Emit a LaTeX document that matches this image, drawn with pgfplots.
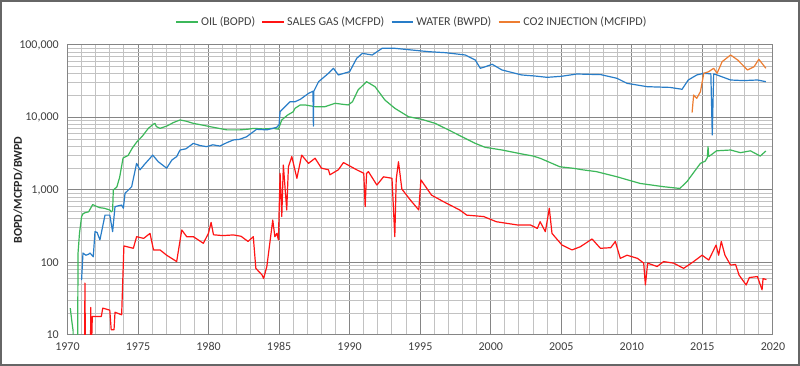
\documentclass[border=0pt]{standalone}
\usepackage{pgfplots}
\pgfplotsset{compat=1.18}
\usepackage{fontspec}
\setmainfont{Carlito}
\definecolor{oilc}{RGB}{60,184,90}
\definecolor{gasc}{RGB}{255,20,20}
\definecolor{watc}{RGB}{40,125,200}
\definecolor{co2c}{RGB}{237,125,49}
\definecolor{txt}{RGB}{64,64,64}
\begin{document}
\begin{tikzpicture}
\draw[black!60, line width=1.2pt, fill=white] (0.6pt,0.6pt) rectangle (599.4pt,273.9pt);
\path (0,0) rectangle (600pt,274.5pt);
\begin{axis}[
  at={(50.6pt,23.25pt)}, anchor=south west,
  scale only axis, width=529.1pt, height=217.5pt,
  xmin=1970, xmax=2020, ymin=10, ymax=100000,
  ymode=log, log basis y=10,
  xtick={1970,1975,...,2020}, minor x tick num=4,
  xticklabels={1970,1975,1980,1985,1990,1995,2000,2005,2010,2015,2020},
  ytick={10,100,1000,10000,100000},
  yticklabels={10,100,{1,000},{10,000},{100,000}},
  minor ytick={20,30,40,50,60,70,80,90,200,300,400,500,600,700,800,900,2000,3000,4000,5000,6000,7000,8000,9000,20000,30000,40000,50000,60000,70000,80000,90000},
  grid=both,
  major grid style={draw=black!48, line width=0.75pt},
  minor grid style={draw=black!24, line width=0.75pt},
  axis line style={draw=black!48, line width=0.75pt},
  tick style={draw=none},
  ticklabel style={font=\fontsize{9}{10}\selectfont, text=txt},
  /pgf/number format/assume math mode=true,
  yticklabel style={xshift=-3pt},
  xticklabel style={yshift=-2pt},
  ylabel={\textbf{BOPD/MCFPD/BWPD}},
  ylabel style={at={(axis description cs:-0.0702,0.5)}, anchor=center, font=\fontsize{9}{10}\selectfont, text=black!85},
  legend style={at={(0.489,1.079)}, anchor=center, draw=none, fill=none,
    legend columns=4, font=\fontsize{9}{10}\selectfont, text=txt,
    /tikz/every odd column/.append style={column sep=0pt},
    /tikz/every even column/.append style={column sep=3pt}},
  legend image code/.code={\draw[#1, line width=1pt] (0pt,0pt) -- (16pt,0pt);},
  every axis plot/.append style={line width=0.9pt, line join=round},
]
\addplot[oilc] coordinates {(1970.2,23.5)(1970.3,16)(1970.4,11.4)(1970.45,1)(1970.7,1)(1970.75,135)(1970.85,250)(1971.0,428)(1971.1,470)(1971.24,486)(1971.5,500)(1971.79,630)(1972.0,600)(1972.3,570)(1972.6,560)(1973.0,530)(1973.1,500)(1973.2,520)(1973.25,1000)(1973.5,1100)(1973.7,1500)(1973.94,2760)(1974.3,3000)(1974.6,3800)(1974.93,4640)(1975.3,5500)(1975.73,7080)(1976.09,8100)(1976.2,8300)(1976.3,7500)(1976.56,7080)(1977.03,7600)(1977.5,8500)(1977.98,9250)(1978.4,8900)(1978.92,8300)(1979.5,7900)(1980.1,7480)(1980.7,7100)(1981.3,6750)(1982.23,6750)(1982.8,6900)(1983.2,7080)(1983.9,6950)(1984.6,7080)(1984.95,6900)(1985.19,9250)(1985.6,10800)(1986.0,12000)(1986.13,13400)(1986.5,14900)(1986.84,14900)(1987.55,14100)(1988.26,14100)(1988.97,15700)(1989.5,15200)(1989.9,14900)(1990.2,16500)(1990.6,24000)(1991.2,31200)(1991.8,26600)(1992.5,17400)(1993.2,13400)(1994.17,10250)(1995.1,9440)(1996.06,8300)(1997.0,6750)(1997.96,5430)(1998.9,4400)(1999.6,3880)(2000.8,3560)(2002.2,3140)(2003.0,2940)(2003.5,2740)(2004.9,2090)(2005.87,1990)(2006.5,1900)(2007.5,1790)(2008.95,1520)(2010.6,1230)(2012.25,1110)(2013.4,1050)(2013.9,1300)(2014.86,2330)(2015.2,2500)(2015.35,2800)(2015.4,3960)(2015.45,2900)(2015.6,3030)(2016.0,3470)(2017.0,3560)(2017.7,3270)(2018.4,3470)(2019.1,2940)(2019.5,3450)};
\addlegendentry{OIL (BOPD)}
\addplot[gasc] coordinates {(1971.2,3)(1971.24,52)(1971.28,3)(1971.62,3)(1971.65,24)(1971.7,6)(1971.76,18)(1972.4,18)(1972.5,23.5)(1973.0,22)(1973.1,11.8)(1973.3,11.8)(1973.37,20.6)(1973.84,19)(1974.0,169)(1974.67,157)(1974.9,227)(1975.4,215)(1975.85,252)(1976.1,149)(1976.56,149)(1977.03,126)(1977.74,103)(1978.1,281)(1978.45,227)(1978.92,227)(1979.63,184)(1979.99,252)(1980.18,357)(1980.35,241)(1981.0,235)(1981.76,240)(1982.3,230)(1982.8,195)(1983.17,227)(1983.35,83)(1983.8,67)(1983.9,60)(1984.13,88)(1984.55,385)(1984.7,227)(1984.84,252)(1984.95,205)(1985.07,1700)(1985.19,430)(1985.3,2210)(1985.54,530)(1985.66,2090)(1985.9,2890)(1986.26,1450)(1986.6,3030)(1987.08,2330)(1987.55,2740)(1988.0,2000)(1988.5,1900)(1988.6,1620)(1989.2,1900)(1989.56,2390)(1990.5,1900)(1991.0,1700)(1991.1,590)(1991.2,1700)(1991.33,1790)(1991.93,1170)(1992.4,1520)(1993.0,1450)(1993.2,227)(1993.3,1400)(1993.46,2450)(1993.7,1030)(1994.3,728)(1994.9,530)(1995.05,1380)(1995.8,850)(1996.65,690)(1997.8,530)(1998.3,450)(1999.5,430)(2000.4,365)(2001.86,330)(2002.8,330)(2003.3,295)(2003.5,365)(2003.87,266)(2004.15,560)(2004.34,252)(2005.05,174)(2005.76,149)(2006.35,165)(2007.18,211)(2007.77,157)(2008.5,160)(2008.83,195)(2009.18,114)(2009.66,126)(2010.4,114)(2010.84,98)(2010.96,49)(2011.12,98)(2011.79,88)(2012.25,103)(2012.96,98)(2013.67,83)(2014.38,103)(2014.98,126)(2015.45,108)(2015.97,174)(2016.15,126)(2016.34,195)(2016.6,126)(2017.0,92)(2017.35,94)(2017.6,67)(2018.1,49)(2018.33,62)(2018.9,64)(2019.23,42)(2019.3,60)(2019.54,58)};
\addlegendentry{SALES GAS (MCFPD)}
\addplot[watc] coordinates {(1971.0,57)(1971.1,135)(1971.3,126)(1971.5,130)(1971.6,135)(1971.83,120)(1971.95,266)(1972.1,260)(1972.3,205)(1972.66,450)(1973.0,450)(1973.2,266)(1973.37,590)(1973.84,620)(1973.96,560)(1974.08,900)(1974.55,1110)(1974.9,2330)(1975.14,1900)(1975.5,2300)(1975.85,2740)(1976.04,3030)(1976.44,2450)(1977.03,2000)(1977.4,2590)(1977.74,2890)(1977.98,3560)(1978.4,3700)(1978.92,4400)(1979.4,4100)(1979.87,3960)(1980.3,4200)(1980.8,4040)(1981.3,4500)(1981.76,4900)(1982.2,5000)(1982.7,5430)(1983.4,6870)(1984.13,6750)(1984.84,7330)(1985.0,8000)(1985.07,12000)(1985.4,14000)(1985.78,16500)(1986.13,16500)(1986.5,17800)(1987.1,21600)(1987.4,23000)(1987.43,7600)(1987.46,23000)(1987.8,31200)(1988.5,40700)(1988.85,47700)(1989.2,38600)(1990.0,42900)(1990.5,65500)(1990.9,76700)(1991.6,72800)(1992.3,90000)(1993.2,90000)(1994.4,85300)(1995.6,80900)(1996.8,78300)(1998.2,72800)(1998.9,62100)(1999.26,47700)(1999.6,50000)(2000.1,54200)(2000.8,45200)(2002.2,38600)(2003.15,37300)(2004.0,35800)(2005.0,37000)(2006.1,39800)(2007.8,39000)(2008.95,34700)(2009.66,29600)(2011.08,26600)(2012.7,26000)(2013.56,24500)(2014.0,32900)(2014.6,38600)(2015.1,40700)(2015.6,40000)(2015.7,5750)(2015.8,40000)(2016.04,38600)(2017.0,32900)(2017.9,32300)(2018.9,32900)(2019.5,31200)};
\addlegendentry{WATER (BWPD)}
\addplot[co2c] coordinates {(2014.27,11700)(2014.38,20400)(2014.6,18400)(2014.86,22700)(2015.1,40700)(2015.45,42900)(2015.8,47700)(2016.04,40700)(2016.4,58900)(2017.0,72800)(2017.5,62100)(2018.2,45200)(2018.66,50100)(2019.0,63500)(2019.5,47700)};
\addlegendentry{CO2 INJECTION (MCFIPD)}
\end{axis}
\end{tikzpicture}
\end{document}
